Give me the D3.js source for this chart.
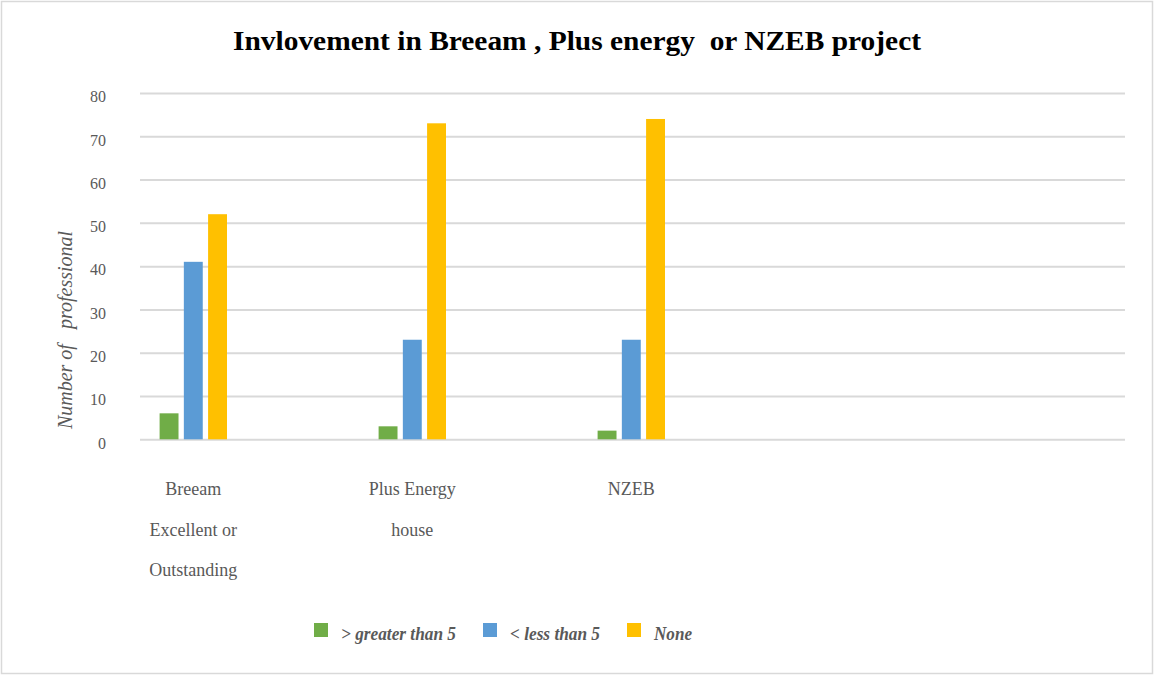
<!DOCTYPE html>
<html>
<head>
<meta charset="utf-8">
<script src="https://cdn.jsdelivr.net/npm/d3@7"></script>
<style>
  html, body { margin: 0; padding: 0; background: #fff; }
  svg { display: block; }
</style>
</head>
<body>
<svg id="chart" width="1154" height="675"></svg>
<script>
// ---- data ----
const categories = ["Breeam Excellent or Outstanding", "Plus Energy house", "NZEB", "", " "];
const categoryLines = [["Breeam", "Excellent or", "Outstanding"], ["Plus Energy", "house"], ["NZEB"], [], []];
const seriesNames = ["> greater than 5", "< less than 5", "None"];
const greaterThan5 = [6, 3, 2, null, null];
const lessThan5 = [41, 23, 23, null, null];
const none = [52, 73, 74, null, null];
const yTicks = [0, 10, 20, 30, 40, 50, 60, 70, 80];
const colors = ["#70ad47", "#5b9bd5", "#ffc000"];
const titleText = "Invlovement in Breeam , Plus energy  or NZEB project";
const yTitle = "Number of   professional";

const seriesValues = [greaterThan5, lessThan5, none];

const svg = d3.select("#chart");
const W = 1154, H = 675;

// outer border
svg.append("rect").attr("x", 1.5).attr("y", 1.5).attr("width", W - 3).attr("height", H - 3)
  .attr("fill", "#fff").attr("stroke", "#d9d9d9").attr("stroke-width", 1.5);

const plot = { left: 140, right: 1125, top: 93, bottom: 439.3 };

const y = d3.scaleLinear().domain([0, 80]).range([plot.bottom, plot.top]);
const x = d3.scaleBand().domain(categories).range([83.8, 83.8 + 219 * 5]).paddingInner(0).paddingOuter(0);
const x1 = d3.scaleBand().domain(seriesNames).range([-33.7, 33.7]).paddingInner(0.22);

// gridlines
const yAxis = d3.axisLeft(y).tickValues(yTicks).tickSize(-(plot.right - plot.left)).tickPadding(34);
const gy = svg.append("g").attr("transform", `translate(${plot.left},0)`).call(yAxis);
gy.select(".domain").remove();
gy.selectAll(".tick line").attr("stroke", "#d9d9d9").attr("stroke-width", 2);
gy.selectAll(".tick text")
  .attr("fill", "#595959")
  .attr("font-family", "'Liberation Serif', serif")
  .attr("font-size", 16)
  .attr("dy", "0.55em");

// bars
const groups = svg.append("g").selectAll("g").data(categories).join("g")
  .attr("transform", c => `translate(${x(c) + x.bandwidth() / 2},0)`);
groups.selectAll("rect")
  .data((c, i) => seriesNames.map((s, j) => ({ s, j, v: seriesValues[j][i] })).filter(d => d.v != null))
  .join("rect")
  .attr("x", d => x1(d.s))
  .attr("width", x1.bandwidth())
  .attr("y", d => y(d.v))
  .attr("height", d => y(0) - y(d.v))
  .attr("fill", d => colors[d.j]);

// category labels
categories.forEach((c, i) => {
  const cx = x(c) + x.bandwidth() / 2;
  categoryLines[i].forEach((line, k) => {
    svg.append("text")
      .attr("x", cx).attr("y", 495 + k * 40.5)
      .attr("text-anchor", "middle")
      .attr("fill", "#595959")
      .attr("font-family", "'Liberation Serif', serif")
      .attr("font-size", 18)
      .text(line);
  });
});

// y title
svg.append("text")
  .attr("transform", `translate(72,330) rotate(-90)`)
  .attr("text-anchor", "middle")
  .attr("fill", "#595959")
  .attr("font-family", "'Liberation Serif', serif")
  .attr("font-style", "italic")
  .attr("font-size", 20)
  .style("white-space", "pre")
  .text(yTitle);

// title
svg.append("text")
  .attr("x", 577).attr("y", 50)
  .attr("text-anchor", "middle")
  .attr("fill", "#000")
  .attr("font-family", "'Liberation Serif', serif")
  .attr("font-weight", "bold")
  .attr("font-size", 28)
  .attr("textLength", 688)
  .attr("lengthAdjust", "spacingAndGlyphs")
  .style("white-space", "pre")
  .text(titleText);

// legend
const legendX = [314, 483, 627];
const legendW = [115, 90, 38];
seriesNames.forEach((s, i) => {
  svg.append("rect").attr("x", legendX[i]).attr("y", 623).attr("width", 14).attr("height", 14).attr("fill", colors[i]);
  svg.append("text")
    .attr("x", legendX[i] + 27).attr("y", 640)
    .attr("fill", "#595959")
    .attr("font-family", "'Liberation Serif', serif")
    .attr("font-style", "italic")
    .attr("font-weight", "bold")
    .attr("font-size", 18)
    .attr("textLength", legendW[i])
    .attr("lengthAdjust", "spacingAndGlyphs")
    .text(s);
});
</script>
</body>
</html>
